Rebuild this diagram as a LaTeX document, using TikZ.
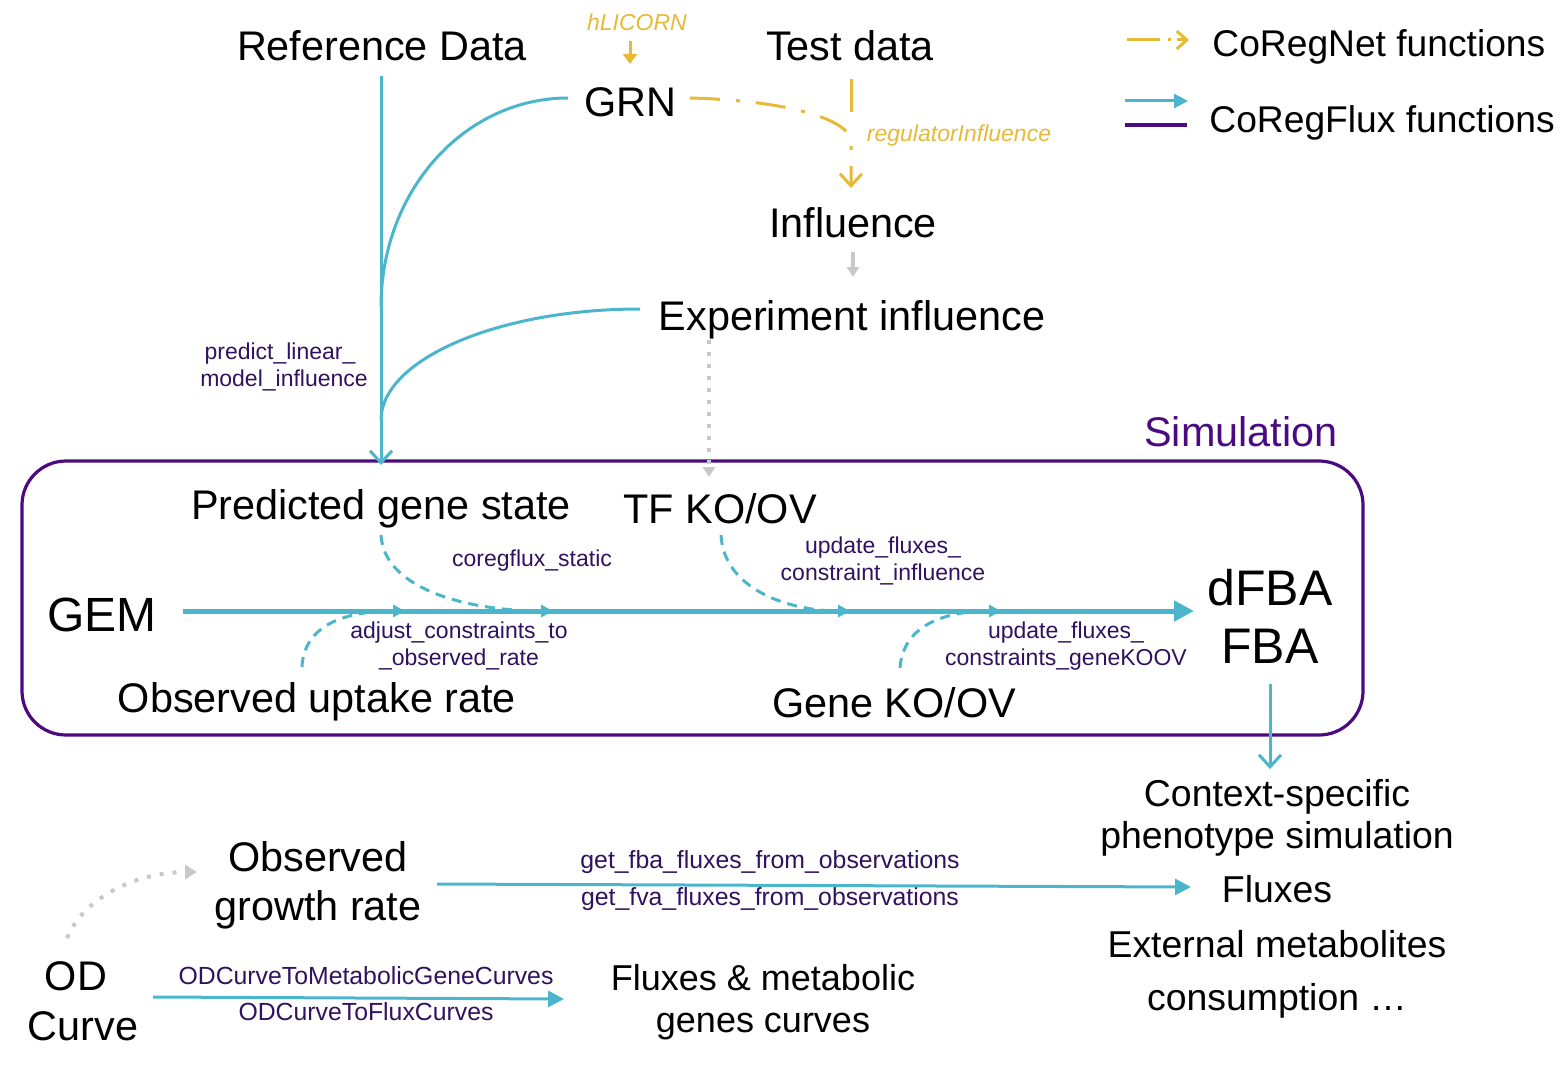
\documentclass[tikz,border=0pt]{standalone}
\usepackage{fontspec}
\setmainfont{Liberation Sans}
\usetikzlibrary{arrows.meta}
\definecolor{cyanc}{HTML}{4BB5CB}
\definecolor{yel}{HTML}{E6B937}
\definecolor{purp}{HTML}{4B0A80}
\definecolor{lab}{HTML}{30125E}
\definecolor{grayc}{HTML}{C8C8C8}
\begin{document}
\begin{tikzpicture}[x=0.5pt,y=-0.5pt,
  big/.style={font=\fontsize{20.7}{24}\selectfont, inner sep=0pt, anchor=base},
  mid/.style={font=\fontsize{18.7}{22}\selectfont, inner sep=0pt, anchor=base},
  huge/.style={font=\fontsize{25}{28}\selectfont, inner sep=0pt, anchor=base},
  fn/.style={font=\fontsize{11.5}{13.5}\selectfont, text=lab, inner sep=0pt, anchor=base},
  fnb/.style={font=\fontsize{12.4}{14}\selectfont, text=lab, inner sep=0pt, anchor=base},
  fy/.style={font=\fontsize{11.5}{13.5}\selectfont\itshape, text=yel, inner sep=0pt, anchor=base},
  cyl/.style={draw=cyanc, line width=1.5pt},
  cyd/.style={draw=cyanc, line width=1.5pt, dash pattern=on 5pt off 3.5pt, -{Triangle[length=6pt,width=6pt]}},
  vtip/.style={-{Straight Barb[length=6pt,width=11pt,line width=1.5pt]}},
  ftip/.style={-{Triangle[length=8pt,width=8pt]}},
  gr/.style={draw=grayc, line width=2pt},
]
\useasboundingbox (0,0) rectangle (1561,1070);

% ---------- text nodes ----------
\node[big] (ref) at (382,61) {Reference Data};
\node[fy] (hlic) at (637,31) {hLICORN};
\node[big] (test) at (850,61) {Test data};
\node[big] (grn) at (630,117) {GRN};
\node[fy] (reginf) at (959,141) {regulatorInfluence};
\node[big] (infl) at (853,237) {Influence};
\node[big] (expinf) at (852,330) {Experiment influence};
\node[fn] (pl1) at (280,359) {predict\_linear\_};
\node[fn] (pl2) at (284,386) {model\_influence};

\node[big, text=purp] (simlab) at (1241,446) {Simulation};
\node[big] (pgs) at (381,519) {Predicted gene state};
\node[big] (tfko) at (720,523) {TF KO/OV};
\node[font=\fontsize{24}{28}\selectfont, inner sep=0pt, anchor=base] (gem) at (102,631) {GEM};
\node[huge] (dfba) at (1270,605) {dFBA};
\node[huge] (fba) at (1270,663) {FBA};
\node[big] (our) at (317,712) {Observed uptake rate};
\node[big] (geneko) at (894,717) {Gene KO/OV};
\node[fn] (cfs) at (532,566) {coregflux\_static};
\node[fn] (adj1) at (459,638) {adjust\_constraints\_to};
\node[fn] (adj2) at (459,665) {\_observed\_rate};
\node[fn] (ufi1) at (883,553) {update\_fluxes\_};
\node[fn] (ufi2) at (883,580) {constraint\_influence};
\node[fn] (ufg1) at (1066,638) {update\_fluxes\_};
\node[fn] (ufg2) at (1066,665) {constraints\_geneKOOV};

\node[mid] (ctx1) at (1277,806) {Context-specific};
\node[mid] (ctx2) at (1277,848) {phenotype simulation};
\node[mid] (flx) at (1277,902) {Fluxes};
\node[mid] (ext1) at (1277,957) {External metabolites};
\node[mid] (ext2) at (1277,1010) {consumption …};

\node[big] (obs1) at (318,871) {Observed};
\node[big] (obs2) at (318,920) {growth rate};
\node[big] (od1) at (76,990) {OD};
\node[big] (od2) at (83,1040) {Curve};
\node[font=\fontsize{18}{22}\selectfont, inner sep=0pt, anchor=base] (fm1) at (763,990) {Fluxes \& metabolic};
\node[font=\fontsize{18}{22}\selectfont, inner sep=0pt, anchor=base] (fm2) at (763,1032) {genes curves};
\node[fnb] (gfba) at (770,868) {get\_fba\_fluxes\_from\_observations};
\node[fnb] (gfva) at (770,905) {get\_fva\_fluxes\_from\_observations};
\node[fnb] (odm) at (366,984) {ODCurveToMetabolicGeneCurves};
\node[fnb] (odf) at (366,1020) {ODCurveToFluxCurves};

% legend
\node[font=\fontsize{18.6}{22}\selectfont, inner sep=0pt, anchor=base west] (lg1) at (1212,57) {CoRegNet functions};
\node[font=\fontsize{18.6}{22}\selectfont, inner sep=0pt, anchor=base west] (lg2) at (1209,133) {CoRegFlux functions};
\coordinate (lya) at (1127,40); \coordinate (lyb) at (1189,40);
\coordinate (lca) at (1125,101); \coordinate (lcb) at (1188,101);
\coordinate (lpa) at (1125,125); \coordinate (lpb) at (1187,125);
\draw[draw=yel, line width=1.5pt, dash pattern=on 16.5pt off 4pt on 1.5pt off 3pt, -{Straight Barb[length=5pt,width=9pt,line width=1.5pt]}] (lya) -- (lyb);
\draw[cyl, -{Triangle[length=7pt,width=7pt]}] (lca) -- (lcb);
\draw[draw=purp, line width=2pt] (lpa) -- (lpb);

% ---------- simulation box ----------
\draw[draw=purp, line width=1.6pt, rounded corners=22pt] (22,461) rectangle (1363,735);

% ---------- top connectors ----------
\coordinate (refS) at (381,76);
\coordinate (simTop) at (381,465);
\coordinate (grnW) at (568,98);
\coordinate (joinA) at (381,307);
\coordinate (expW) at (640,309);
\coordinate (joinB) at (381,420);
\draw[cyl, vtip] (refS) -- (simTop);
\draw[cyl] (grnW) .. controls (465,98) and (381,190) .. (joinA);
\draw[cyl] (expW) .. controls (497,309) and (381,360) .. (joinB);

\coordinate (hlS) at (630,41);
\coordinate (grnN) at (630,64);
\draw[draw=yel, line width=1.5pt, -{Triangle[length=5pt,width=7pt]}] (hlS) -- (grnN);
\coordinate (grnE) at (690,98);
\coordinate (inflN) at (851,188);
\coordinate (testS) at (851,79);
\coordinate (testJ) at (851,112);
\draw[draw=yel, line width=1.5pt] (testS) -- (testJ);
\draw[draw=yel, line width=1.5pt, dash pattern=on 15pt off 8pt on 2pt off 8pt, vtip] (grnE) .. controls (775,100) and (846,116) .. (851,140) -- (inflN);

\coordinate (inflS) at (853,252);
\coordinate (expN) at (853,277);
\draw[gr, -{Triangle[length=5pt,width=6pt]}] (inflS) -- (expN);
\coordinate (expS) at (709,340);
\coordinate (tfN) at (709,477);
\draw[gr, dash pattern=on 2pt off 4pt, -{Triangle[length=5pt,width=6pt]}] (expS) -- (tfN);

% ---------- inside simulation ----------
\coordinate (gemE) at (183,611);
\coordinate (dfbaW) at (1194,611);
\draw[draw=cyanc, line width=2.5pt, -{Triangle[length=10pt,width=10pt]}] (gemE) -- (dfbaW);
\coordinate (pgsS) at (381,535);
\coordinate (pgsT) at (553,611);
\draw[cyd] (pgsS) .. controls (384,590) and (470,611) .. (pgsT);
\coordinate (ourN) at (302,667);
\coordinate (ourT) at (405,611);
\draw[cyd] (ourN) .. controls (304,625) and (345,611) .. (ourT);
\coordinate (tfS) at (721,535);
\coordinate (tfT) at (850,611);
\draw[cyd] (tfS) .. controls (724,590) and (790,611) .. (tfT);
\coordinate (gkN) at (900,668);
\coordinate (gkT) at (1001,611);
\draw[cyd] (gkN) .. controls (903,625) and (945,611) .. (gkT);

% ---------- bottom ----------
\coordinate (fbaS) at (1270,684);
\coordinate (ctxN) at (1270,769);
\draw[cyl, vtip] (fbaS) -- (ctxN);
\coordinate (obsE) at (437,884);
\coordinate (flxW) at (1191,887);
\draw[cyl, ftip] (obsE) -- (flxW);
\coordinate (odE) at (153,997);
\coordinate (fmW) at (564,999);
\draw[cyl, ftip] (odE) -- (fmW);
\coordinate (odN) at (67,938);
\coordinate (obsW) at (197,872);
\draw[gr, dash pattern=on 2pt off 4.5pt, -{Triangle[length=6pt,width=7pt]}] (odN) .. controls (85,895) and (140,872) .. (obsW);
\end{tikzpicture}
\end{document}
